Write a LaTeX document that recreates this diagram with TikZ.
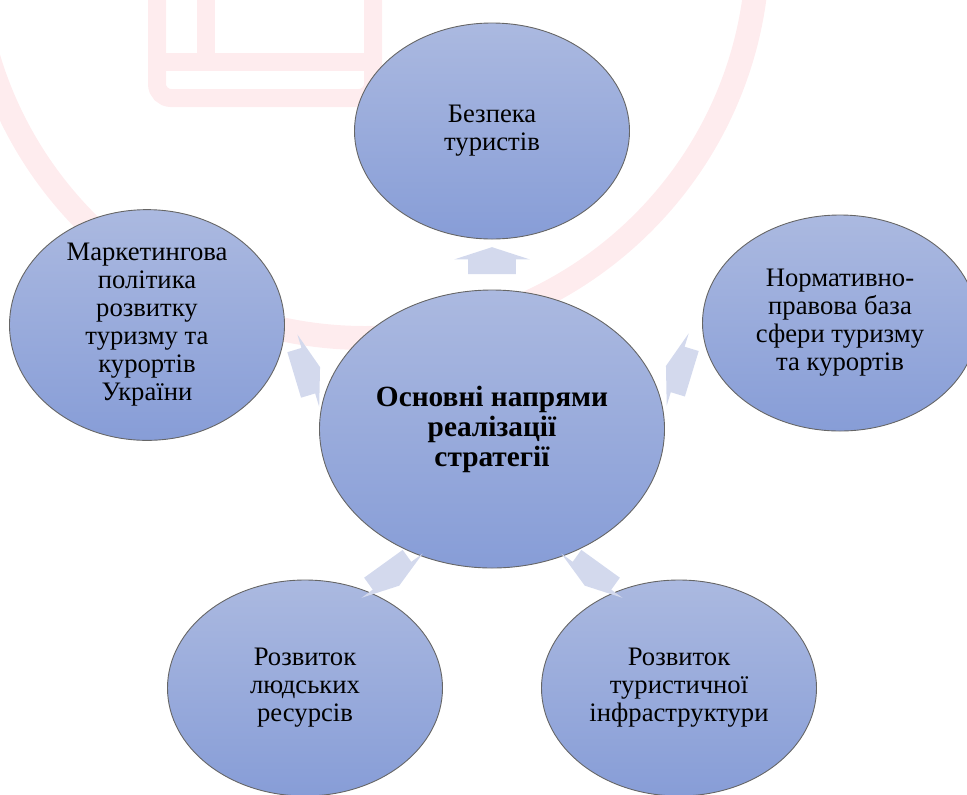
\documentclass[tikz,border=0pt]{standalone}
\usepackage{fontspec}
\setmainfont{Liberation Serif}
\usetikzlibrary{shapes.geometric,shapes.arrows}

\newlength{\du}
\setlength{\du}{0.750000pt}

\definecolor{ringcolor}{rgb}{0.996078, 0.925490, 0.933333}
\definecolor{blobtop}{rgb}{0.670588, 0.725490, 0.878431}
\definecolor{blobbottom}{rgb}{0.529412, 0.615686, 0.843137}
\definecolor{arrowcolor}{rgb}{0.827451, 0.850980, 0.929412}

\tikzset{
  blob/.style={ellipse, draw=black!60, line width=0.9\du,
    top color=blobtop, bottom color=blobbottom,
    minimum width=275\du, minimum height=216\du, inner sep=0pt,
    align=center, font=\fontsize{20}{21}\selectfont},
  hub/.style={blob, minimum width=345\du, minimum height=278\du,
    font=\fontsize{22}{22.5}\selectfont\bfseries},
  outarrow/.style={single arrow, sloped, allow upside down,
    shape border rotate=180,
    fill=arrowcolor, draw=none, inner sep=0pt, inner ysep=23.5\du,
    minimum height=27\du, single arrow head extend=14\du,
    single arrow tip angle=144},
  logoline/.style={draw=ringcolor, line width=18\du},
}

\begin{document}
\begin{tikzpicture}
\pgftransformxscale{1.000000}
\pgftransformyscale{-1.000000}
\useasboundingbox (0\du,0\du) rectangle (967\du,794\du);
% watermark
\draw[ringcolor, line width=24\du] (365\du,-55\du) circle (393\du);
\draw[logoline, rounded corners=14\du] (157\du,-10\du)--(157\du,98\du)--(373\du,98\du)--(373\du,-10\du);
\draw[logoline] (157\du,62\du)--(373\du,62\du);
\draw[logoline] (206\du,-10\du)--(206\du,62\du);
% ellipses
\node[hub] (strat) at (492.000000\du,429.000000\du) {Основні напрями\\реалізації\\стратегії};
\node[blob] (safety) at (492.000000\du,131.000000\du) {Безпека\\туристів};
\node[blob] (law) at (840.000000\du,323.000000\du) {Нормативно-\\правова база\\сфери туризму\\та курортів};
\node[blob] (infra) at (679.000000\du,688.000000\du) {Розвиток\\туристичної\\інфраструктури};
\node[blob] (people) at (305.000000\du,688.000000\du) {Розвиток\\людських\\ресурсів};
\node[blob] (market) at (147.000000\du,325.000000\du) {Маркетингова\\політика\\розвитку\\туризму та\\курортів\\України};
% arrows
\foreach \goal in {safety,law,infra,people,market}
{
\path (strat) -- node[outarrow] {} (\goal);
}
\end{tikzpicture}
\end{document}
